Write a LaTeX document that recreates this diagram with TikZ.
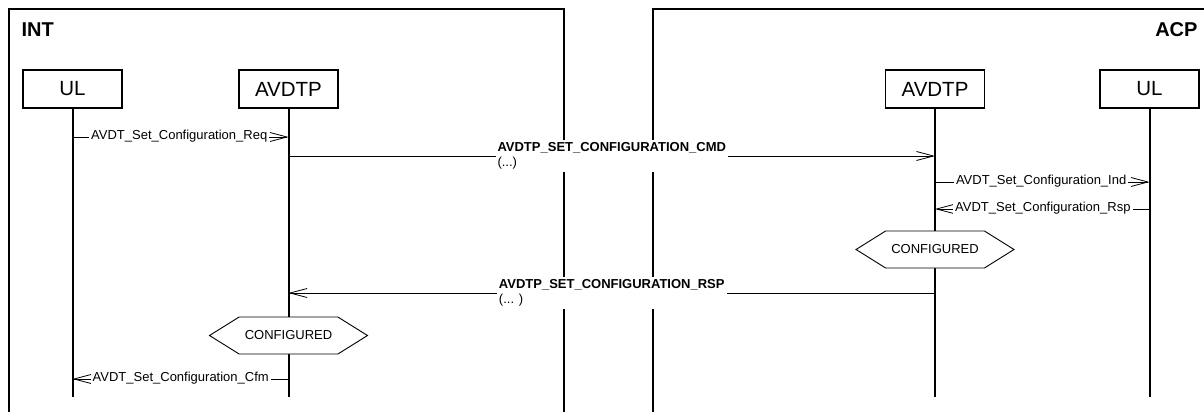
\documentclass[tikz,border=0pt]{standalone}
\usepackage{fontspec}
\setmainfont{Liberation Sans}
\usetikzlibrary{arrows.meta,shapes.symbols,calc}

\begin{document}
\begin{tikzpicture}[
	entity/.style={draw, line width=1.4pt, minimum width=99pt, minimum height=38pt, inner sep=0pt, font=\fontsize{20.5}{24}\selectfont},
	frame/.style={line width=2pt},
	life/.style={line width=2pt},
	msg/.style={line width=0.8pt, -{Straight Barb[length=17pt, width=9pt, line width=0.8pt]}},
	lbl/.style={fill=white, inner xsep=2pt, inner ysep=1pt, font=\fontsize{13}{15}\selectfont},
	sig/.style={fill=white, align=left, inner xsep=2pt, inner ysep=3pt, font=\fontsize{13}{14.5}\selectfont},
	state/.style={draw, fill=white, line width=0.9pt, signal, signal to=east and west, signal pointer angle=64, minimum width=158pt, minimum height=37pt, inner sep=0pt, font=\fontsize{13}{15}\selectfont},
	side/.style={font=\fontsize{20}{24}\selectfont\bfseries}
]
	\useasboundingbox (0pt, 0pt) rectangle (1204pt, -412pt);

	\draw[frame] (9pt, -412pt) -- (9pt, -9pt) -- (564pt, -9pt) -- (564pt, -412pt);
	\draw[frame] (653pt, -412pt) -- (653pt, -9pt) -- (1204pt, -9pt);
	\node[side, anchor = base west] (int) at (18pt, -37pt) {INT};
	\node[side, anchor = base east] (acp) at (1201pt, -37pt) {ACP};

	\node[entity] (ulI) at (72.5pt, -89pt) {UL};
	\node[entity] (avI) at (288.5pt, -89pt) {AVDTP};
	\node[entity] (avA) at (935pt, -89pt) {AVDTP};
	\node[entity] (ulA) at (1149.5pt, -89pt) {UL};

	\coordinate (bot) at (0pt, -397pt);
	\coordinate (req) at (0pt, -137pt);
	\coordinate (cmd) at (0pt, -156pt);
	\coordinate (ind) at (0pt, -182pt);
	\coordinate (rsp) at (0pt, -209pt);
	\coordinate (ans) at (0pt, -293pt);
	\coordinate (cfm) at (0pt, -379pt);

	\foreach \e in {ulI, avI, avA, ulA}
		\draw[life] (\e.south) -- (\e |- bot);

	\draw[msg] (ulI |- req) -- (avI |- req);
	\draw[msg] (avI |- cmd) -- (avA |- cmd);
	\draw[msg] (avA |- ind) -- (ulA |- ind);
	\draw[msg] (ulA |- rsp) -- (avA |- rsp);
	\draw[msg] (avA |- ans) -- (avI |- ans);
	\draw[msg] (avI |- cfm) -- (ulI |- cfm);

	\node[lbl, anchor = mid east] (reqL) at ($(avI |- req) + (-19pt, 0pt)$) {AVDT\_Set\_Configuration\_Req};
	\node[lbl, anchor = mid east] (indL) at ($(ulA |- ind) + (-21pt, 0pt)$) {AVDT\_Set\_Configuration\_Ind};
	\node[lbl, anchor = mid west] (rspL) at ($(avA |- rsp) + (18pt, 0pt)$) {AVDT\_Set\_Configuration\_Rsp};
	\node[lbl, anchor = mid west] (cfmL) at ($(ulI |- cfm) + (18pt, 0pt)$) {AVDT\_Set\_Configuration\_Cfm};

	\node[state] (cfgA) at (935pt, -249.5pt) {CONFIGURED};
	\node[state] (cfgI) at (288.5pt, -335.5pt) {CONFIGURED};

	\node[sig] (cmdL) at ($(avI |- cmd)!0.5!(avA |- cmd)$) {\textbf{AVDTP\_SET\_CONFIGURATION\_CMD}\\(...)};
	\node[sig] (ansL) at ($(avI |- ans)!0.5!(avA |- ans)$) {\textbf{AVDTP\_SET\_CONFIGURATION\_RSP}\\(... )};
\end{tikzpicture}
\end{document}
